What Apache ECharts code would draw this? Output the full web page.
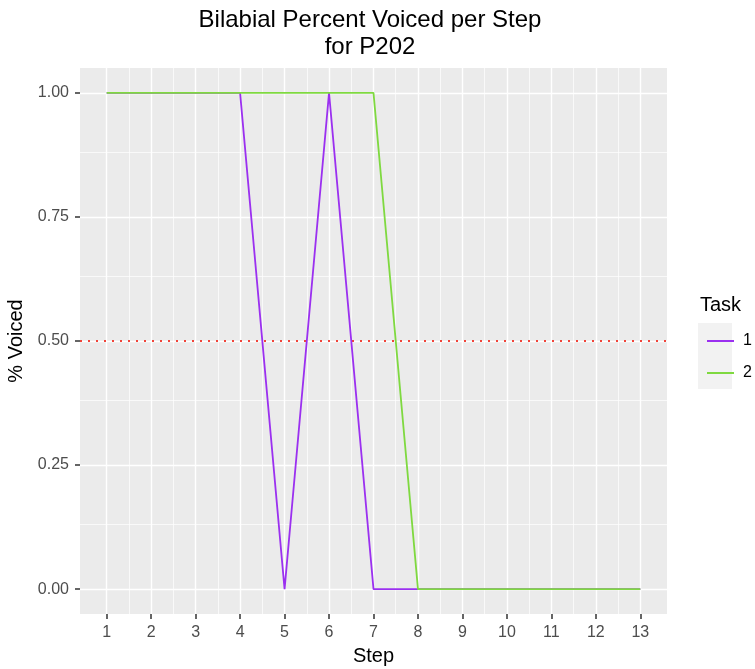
<!DOCTYPE html>
<html>
<head>
<meta charset="utf-8">
<script src="https://cdn.jsdelivr.net/npm/echarts@6/dist/echarts.min.js"></script>
<style>
  html, body { margin: 0; padding: 0; background: #fff; }
  #chart { width: 755px; height: 669px; }
</style>
</head>
<body>
<div id="chart"></div>
<script>
  // data
  const steps = [1, 2, 3, 4, 5, 6, 7, 8, 9, 10, 11, 12, 13];
  const task1 = [1, 1, 1, 1, 0, 1, 0, 0, 0, 0, 0, 0, 0];
  const task2 = [1, 1, 1, 1, 1, 1, 1, 0, 0, 0, 0, 0, 0];
  const yTicks = [0, 0.25, 0.5, 0.75, 1];
  const xMinor = [1.5, 2.5, 3.5, 4.5, 5.5, 6.5, 7.5, 8.5, 9.5, 10.5, 11.5, 12.5];
  const yMinor = [0.125, 0.375, 0.625, 0.875];
  const threshold = 0.5;

  const FONT = 'Liberation Sans';
  const chart = echarts.init(document.getElementById('chart'));

  const pairs = vals => steps.map((s, i) => [s, vals[i]]);
  const gridLine = (axis, v, w) => ({
    [axis]: v,
    lineStyle: { color: '#fff', width: w, type: 'solid' }
  });

  chart.setOption({
    animation: false,
    textStyle: { fontFamily: FONT },
    title: {
      text: 'Bilabial Percent Voiced per Step\nfor P202',
      left: 365,
      top: 2,
      textAlign: 'center',
      textStyle: { fontSize: 24, fontWeight: 'normal', color: '#000', lineHeight: 27, fontFamily: FONT }
    },
    grid: {
      left: 80, right: 88, top: 68, bottom: 55,
      outerBoundsMode: 'none',
      containLabel: false,
      show: true, backgroundColor: '#EBEBEB', borderWidth: 0
    },
    legend: {
      orient: 'vertical',
      left: 702,
      top: 328,
      icon: 'rect',
      itemWidth: 27,
      itemHeight: 2,
      itemGap: 16,
      data: ['1', '2'],
      textStyle: { fontSize: 16, color: '#000', lineHeight: 16, padding: [0, 0, 0, 4] }
    },
    graphic: [
      { type: 'rect', left: 698, top: 323, shape: { width: 34, height: 66 }, style: { fill: '#F2F2F2' }, z: -1 },
      { type: 'text', left: 700, top: 295, style: { text: 'Task', fontSize: 20, fill: '#000', fontFamily: FONT } }
    ],
    xAxis: {
      type: 'value',
      min: 0.4,
      max: 13.6,
      name: 'Step',
      nameLocation: 'middle',
      nameGap: 32,
      nameTextStyle: { fontSize: 20, color: '#000' },
      axisLine: { show: false, onZero: false },
      axisTick: { show: true, customValues: steps, length: 5, lineStyle: { color: '#333', width: 1.5 } },
      axisLabel: { customValues: steps, color: '#4D4D4D', fontSize: 16, margin: 11 },
      splitLine: { show: false }
    },
    yAxis: {
      type: 'value',
      min: -0.05,
      max: 1.05,
      name: '% Voiced',
      nameLocation: 'middle',
      nameGap: 43,
      nameTextStyle: { fontSize: 20, color: '#000' },
      axisLine: { show: false, onZero: false },
      axisTick: { show: true, customValues: yTicks, length: 5, lineStyle: { color: '#333', width: 1.5 } },
      axisLabel: { customValues: yTicks, color: '#4D4D4D', fontSize: 16, margin: 11, formatter: v => v.toFixed(2) },
      splitLine: { show: false }
    },
    series: [
      {
        name: 'grid',
        type: 'line',
        data: [],
        silent: true,
        z: 1,
        markLine: {
          z: 1,
          silent: true,
          symbol: 'none',
          label: { show: false },
          animation: false,
          data: [
            ...xMinor.map(v => gridLine('xAxis', v, 0.7)),
            ...yMinor.map(v => gridLine('yAxis', v, 0.7)),
            ...steps.map(v => gridLine('xAxis', v, 1.4)),
            ...yTicks.map(v => gridLine('yAxis', v, 1.4))
          ]
        }
      },
      {
        name: '1',
        type: 'line',
        data: pairs(task1),
        showSymbol: false,
        symbol: 'none',
        color: '#9B30F0',
        lineStyle: { width: 1.8, color: '#9B30F0' },
        z: 3
      },
      {
        name: '2',
        type: 'line',
        data: pairs(task2),
        showSymbol: false,
        symbol: 'none',
        color: '#7FD940',
        lineStyle: { width: 1.8, color: '#7FD940' },
        z: 4,
        markLine: {
          z: 2,
          silent: true,
          symbol: 'none',
          label: { show: false },
          data: [{ yAxis: threshold }],
          lineStyle: { color: '#F0443A', width: 2, type: [2, 6] }
        }
      }
    ]
  });
</script>
</body>
</html>
